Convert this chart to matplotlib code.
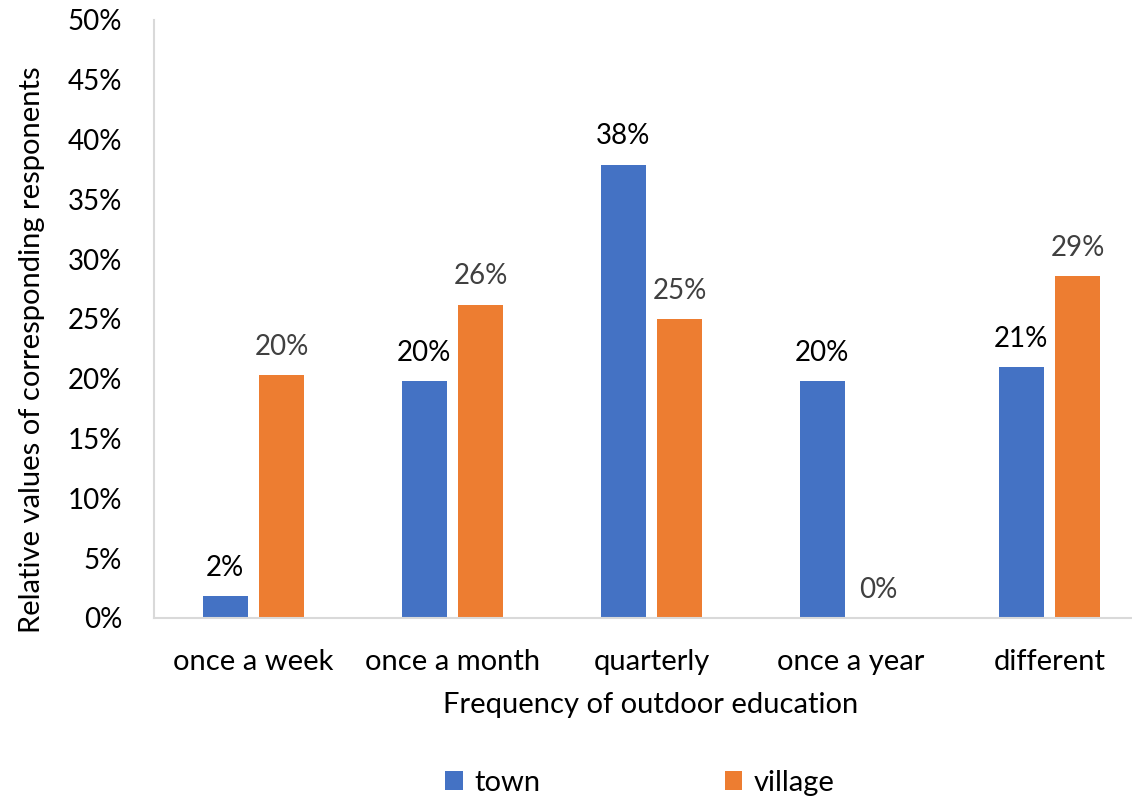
import matplotlib
matplotlib.use("Agg")
import matplotlib.pyplot as plt
import numpy as np

categories = ["once a week", "once a month", "quarterly", "once a year", "different"]
town = [1.8, 19.8, 37.9, 19.8, 21.0]
village = [20.3, 26.2, 25.0, 0.0, 28.6]
town_labels = ["2%", "20%", "38%", "20%", "21%"]
village_labels = ["20%", "26%", "25%", "0%", "29%"]
yticks = [0, 5, 10, 15, 20, 25, 30, 35, 40, 45, 50]

plt.rcParams['font.family'] = ['Lato', 'DejaVu Sans']

W, H = 1132, 800
fig = plt.figure(figsize=(W / 100, H / 100), dpi=100)
ax = fig.add_axes([154 / W, 182 / H, 995 / W, 598 / H])

x = np.arange(len(categories))
bw = 0.224
off = 0.142
c_town = "#4472C4"
c_village = "#ED7D31"
b1 = ax.bar(x - off, town, bw, color=c_town, label="town")
b2 = ax.bar(x + off, village, bw, color=c_village, label="village")

for xi, v, lab in zip(x - off, town, town_labels):
    ax.annotate(lab, (xi, v), xytext=(0, 11), textcoords="offset points",
                ha="center", va="bottom", fontsize=20, color="black")
for xi, v, lab in zip(x + off, village, village_labels):
    ax.annotate(lab, (xi, v), xytext=(0, 11), textcoords="offset points",
                ha="center", va="bottom", fontsize=20, color="#404040")

ax.set_xlim(-0.5, len(categories) - 0.5)
ax.set_ylim(0, 50)
ax.set_yticks(yticks)
ax.set_yticklabels([f"{t}%" for t in yticks], fontsize=20, color="black")
ax.set_xticks(x)
ax.set_xticklabels(categories, fontsize=21, color="black")
ax.tick_params(axis="both", length=0)
ax.tick_params(axis="y", pad=23)
ax.tick_params(axis="x", pad=22)

for s in ["top", "right"]:
    ax.spines[s].set_visible(False)
for s in ["left", "bottom"]:
    ax.spines[s].set_color("#D9D9D9")
    ax.spines[s].set_linewidth(1.5)

fig.text(651 / W, 1 - 705 / H, "Frequency of outdoor education", ha="center", va="center",
         fontsize=21, color="black")
fig.text(32 / W, 1 - 350 / H, "Relative values of corresponding responents", ha="center",
         va="center", rotation=90, fontsize=21, color="black")

fig.legend(handles=[b1, b2], labels=["town", "village"], loc="center",
           bbox_to_anchor=(640 / W, 1 - 783 / H), ncol=2, frameon=False,
           fontsize=21, handlelength=0.6, handleheight=0.6, handletextpad=0.4,
           columnspacing=6.3)

fig.savefig("out.png", dpi=100)
